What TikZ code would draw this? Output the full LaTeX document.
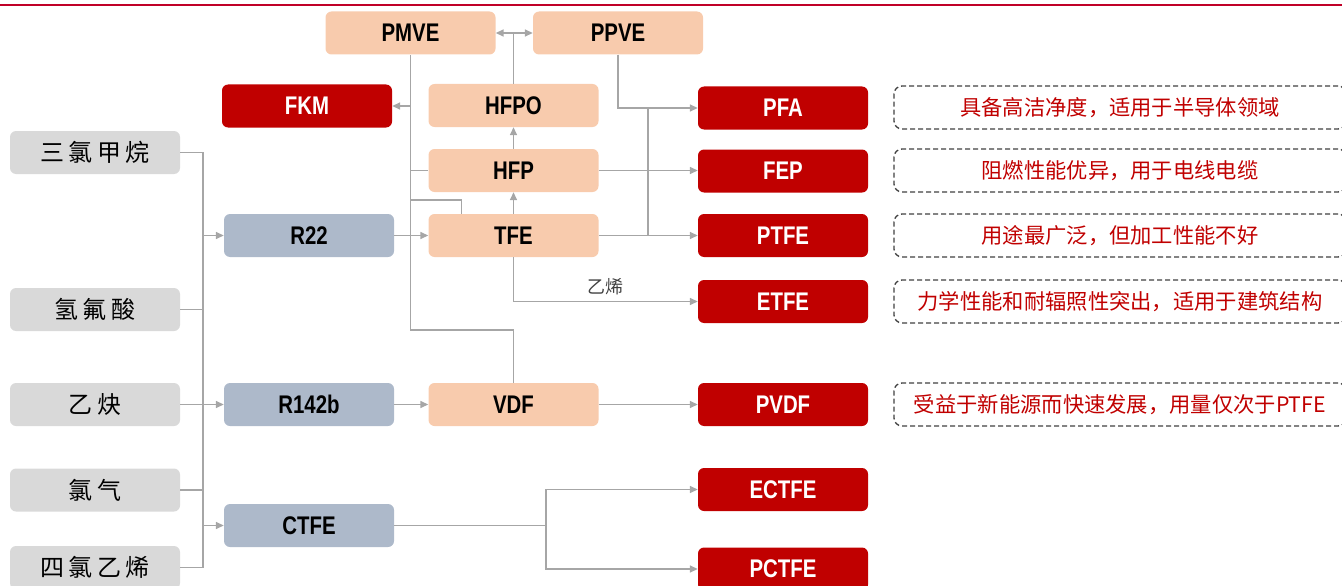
\documentclass[tikz,border=0pt]{standalone}
\usepackage{fontspec}
\setmainfont{Liberation Sans}
\newfontfamily\lab[FakeStretch=0.8]{Liberation Sans}
\newfontfamily\cjk{Noto Sans CJK SC}
\newfontfamily\cjkw[LetterSpace=18]{Noto Sans CJK SC}
\usetikzlibrary{arrows.meta}
\definecolor{cgrey}{HTML}{D9D9D9}
\definecolor{cblue}{HTML}{ADB9CA}
\definecolor{cpeach}{HTML}{F8CBAD}
\definecolor{cred}{HTML}{C00000}
\definecolor{ctop}{HTML}{C00028}
\definecolor{cline}{HTML}{A6A6A6}
\definecolor{cdash}{HTML}{404040}
\tikzset{
  box/.style={rounded corners=6pt, minimum width=170pt, minimum height=43pt, inner sep=0pt,
    font=\lab\bfseries\fontsize{25.5}{28}\selectfont},
  gbox/.style={box, fill=cgrey, font=\cjkw\fontsize{24}{28}\selectfont},
  bbox/.style={box, fill=cblue},
  pbox/.style={box, fill=cpeach},
  rbox/.style={box, fill=cred, text=white},
  note/.style={draw=cdash, dash pattern=on 5pt off 3pt, line width=1.3pt, rounded corners=8pt,
    minimum width=452pt, minimum height=43pt, inner sep=0pt, text=cred,
    font=\cjk\fontsize{21.3}{24}\selectfont},
  conn/.style={draw=cline, line width=1.5pt},
  arr/.style={conn, -{Triangle[length=8pt,width=7pt]}},
  darr/.style={conn, {Triangle[length=8pt,width=7pt]}-{Triangle[length=8pt,width=7pt]}},
  lbl/.style={font=\cjk\fontsize{18}{22}\selectfont, text=cdash}
}
\begin{document}
\begin{tikzpicture}[x=1pt,y=-1pt]
\useasboundingbox (0,0) rectangle (1342,586);
\clip (0,0) rectangle (1342,586);
\draw[ctop, line width=2.5pt] (0,5) -- (1342,5);

% left raw materials
\node[gbox] (L1) at (95,152.5) {三氯甲烷};
\node[gbox] (L2) at (95,309.5) {氢氟酸};
\node[gbox] (L3) at (95,404.5) {乙炔};
\node[gbox] (L4) at (95,490) {氯气};
\node[gbox] (L5) at (95,567.5) {四氯乙烯};

% intermediates
\node[bbox] (R22) at (309,235.5) {R22};
\node[bbox] (R142b) at (309,404.5) {R142b};
\node[bbox] (CTFE) at (309,525.5) {CTFE};

\node[pbox] (PMVE) at (410.5,33) {PMVE};
\node[pbox] (PPVE) at (618,33) {PPVE};
\node[pbox] (HFPO) at (513.5,105.5) {HFPO};
\node[pbox] (HFP) at (513.5,170.5) {HFP};
\node[pbox] (TFE) at (513.5,235.5) {TFE};
\node[pbox] (VDF) at (513.5,404.5) {VDF};

% products
\node[rbox] (FKM) at (307,106) {FKM};
\node[rbox] (PFA) at (783,108) {PFA};
\node[rbox] (FEP) at (783,171) {FEP};
\node[rbox] (PTFE) at (783,235.5) {PTFE};
\node[rbox] (ETFE) at (783,301.5) {ETFE};
\node[rbox] (PVDF) at (783,404.5) {PVDF};
\node[rbox] (ECTFE) at (783,489.5) {ECTFE};
\node[rbox] (PCTFE) at (783,569) {PCTFE};

% notes
\node[note] (N1) at (1120,107.5) {具备高洁净度，适用于半导体领域};
\node[note] (N2) at (1120,170.5) {阻燃性能优异，用于电线电缆};
\node[note] (N3) at (1120,235.5) {用途最广泛，但加工性能不好};
\node[note] (N4) at (1120,301.5) {力学性能和耐辐照性突出，适用于建筑结构};
\node[note] (N5) at (1120,404.5) {受益于新能源而快速发展，用量仅次于PTFE};

% left bus
\coordinate (bus) at (203,567.5);
\draw[conn] (L1.east) -| (bus) -- (L5.east);
\draw[conn] (L2.east) -- (L2.east -| bus);
\draw[conn] (L4.east) -- (L4.east -| bus);
\draw[arr] (L3.east) -- (R142b.west);
\draw[arr] (R22.west -| bus) -- (R22.west);
\draw[arr] (CTFE.west -| bus) -- (CTFE.west);

% chain
\draw[arr] (R22.east) -- (TFE.west);
\draw[arr] (R142b.east) -- (VDF.west);
\draw[arr] (VDF.east) -- (PVDF.west);
\draw[arr] (TFE.east) -- (PTFE.west);
\draw[arr] (HFP.east) -- (HFP.east -| FEP.west);
\draw[arr] (TFE.north) -- (HFP.south);
\draw[arr] (HFP.north) -- (HFPO.south);
\coordinate (top) at (513.5,33);
\draw[conn] (HFPO.north) -- (top);
\draw[darr] (PMVE.east) -- (PPVE.west);
\draw[arr] (PPVE.south) |- (PFA.west);
\coordinate (pj) at (648,108);
\draw[conn] (TFE.east -| pj) -- (pj);

% FKM feed
\draw[conn] (VDF.north) -- ++(0,-53) -| (PMVE.south);
\draw[arr] (PMVE.south |- FKM.east) -- (FKM.east);
\draw[conn] (PMVE.south |- HFP.west) -- (HFP.west);
\draw[conn] (PMVE.south |- 0,200) -| ([xshift=-52pt]TFE.north);

% ETFE
\draw[arr] (TFE.south) |- (ETFE.west);
\node[lbl] (eth) at (605,287) {乙烯};

% CTFE
\coordinate (cj) at (546,525.5);
\draw[conn] (CTFE.east) -- (cj);
\draw[arr] (cj) |- (ECTFE.west);
\draw[arr] (cj) |- (PCTFE.west);
\end{tikzpicture}
\end{document}
